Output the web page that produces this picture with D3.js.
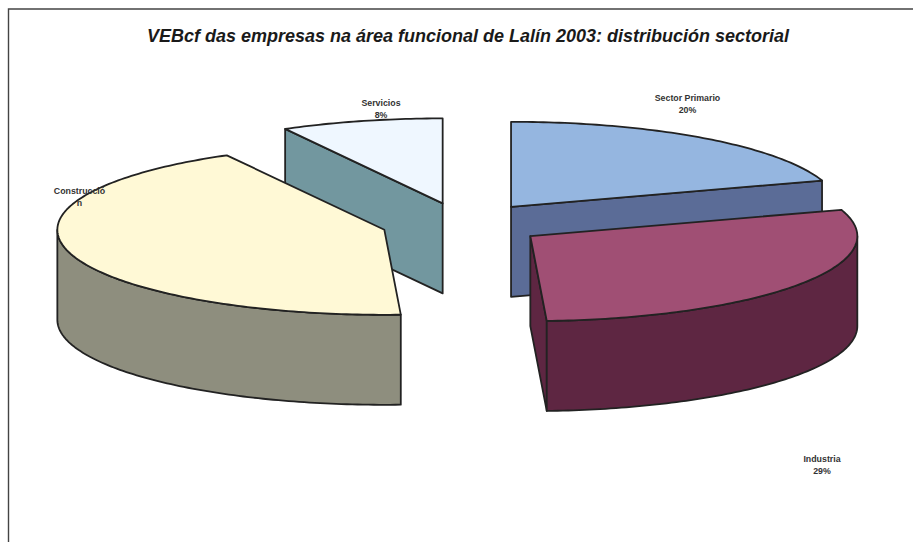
<!DOCTYPE html>
<html>
<head>
<meta charset="utf-8">
<script src="https://cdn.jsdelivr.net/npm/d3@7"></script>
<style>
  body { margin: 0; background: #fff; }
  text { font-family: "Liberation Sans", Arial, sans-serif; }
</style>
</head>
<body>
<script>
// values
var sectors = ["Sector Primario", "Industria", "Construcción", "Servicios"];
var shares = [20, 29.2, 42.8, 8];
var topColors = ["#95b6e0", "#a04f74", "#fff9d6", "#eff7ff"];
var sideColors = ["#5b6c97", "#5e2642", "#8e8e7e", "#72979f"];
var labelLines = [["Sector Primario", "20%"], ["Industria", "29%"], ["Construcció", "n"], ["Servicios", "8%"]];

var width = 913, height = 542;

// tilted pie: ellipse radii, thickness and how far the slices are pulled out
var rx = 327, ry = 85, depth = 90, explode = 0.25;
var cx = 463, cy = 224;

var svg = d3.select("body").append("svg")
    .attr("width", width)
    .attr("height", height)
    .style("display", "block");

// frame, open on the right and bottom like the original
svg.append("path")
    .attr("d", "M8.5,542V9H913")
    .attr("fill", "none")
    .attr("stroke", "#444")
    .attr("stroke-width", 1.4);

svg.append("text")
    .attr("x", 468)
    .attr("y", 42)
    .attr("text-anchor", "middle")
    .attr("font-size", 18)
    .attr("font-style", "italic")
    .attr("font-weight", "bold")
    .attr("fill", "#1a1a1a")
    .text("VEBcf das empresas na área funcional de Lalín 2003: distribución sectorial");

var pie = d3.pie().sort(null).value(d => d)(shares);

var slices = pie.map(function(p, i) {
    var mid = (p.startAngle + p.endAngle) / 2;
    return {
        i: i,
        a0: p.startAngle,
        a1: p.endAngle,
        x: cx + explode * rx * Math.sin(mid),
        y: cy - explode * ry * Math.cos(mid)
    };
});

var line = d3.line();

function rim(s, a0, a1, dy) {
    var n = Math.max(2, Math.ceil((a1 - a0) * 60));
    return d3.range(n + 1).map(function(k) {
        var a = a0 + (a1 - a0) * k / n;
        return [s.x + rx * Math.sin(a), s.y - ry * Math.cos(a) + dy];
    });
}

function wall(s, a) {
    var p = rim(s, a, a, 0)[0];
    return [[s.x, s.y], p, [p[0], p[1] + depth], [s.x, s.y + depth]];
}

// back to front
var groups = svg.selectAll("g.slice")
    .data(slices.slice().sort((a, b) => a.y - b.y))
    .enter()
    .append("g")
    .attr("class", "slice")
    .attr("stroke", "#222")
    .attr("stroke-width", 1.8)
    .attr("stroke-linejoin", "round");

groups.each(function(s) {
    var g = d3.select(this);
    var side = sideColors[s.i];

    if (Math.sin(s.a0) < -1e-6) {
        g.append("path").attr("d", line(wall(s, s.a0)) + "Z").attr("fill", side);
    }
    if (Math.sin(s.a1) > 1e-6) {
        g.append("path").attr("d", line(wall(s, s.a1)) + "Z").attr("fill", side);
    }

    // outer rim, only the part that faces the viewer
    var from = Math.max(s.a0, Math.PI / 2), to = Math.min(s.a1, Math.PI * 1.5);
    if (to > from) {
        var upper = rim(s, from, to, 0), lower = rim(s, from, to, depth).reverse();
        g.append("path").attr("d", line(upper.concat(lower)) + "Z").attr("fill", side);
    }

    var top = [[s.x, s.y]].concat(rim(s, s.a0, s.a1, 0));
    g.append("path").attr("d", line(top) + "Z").attr("fill", topColors[s.i]);
});

// labels were placed by hand in the original, not on the slices
var labelX = [687.5, 822, 79.5, 381];
var labelY = [101, 462, 194, 106];

labelLines.forEach(function(lines, i) {
    svg.append("text")
        .attr("text-anchor", "middle")
        .attr("font-size", 8.8)
        .attr("font-weight", "bold")
        .attr("fill", "#333")
        .selectAll("tspan")
        .data(lines)
        .enter()
        .append("tspan")
        .attr("x", labelX[i])
        .attr("y", (d, k) => labelY[i] + k * 11.5)
        .text(d => d);
});
</script>
</body>
</html>
